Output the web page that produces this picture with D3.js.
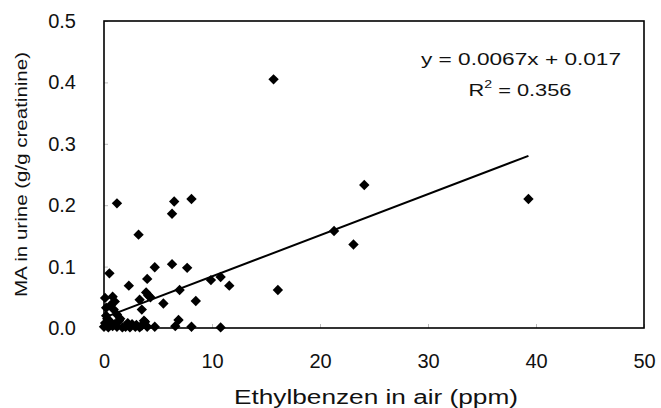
<!DOCTYPE html>
<html>
<head>
<meta charset="utf-8">
<script src="https://cdn.jsdelivr.net/npm/d3@7"></script>
<style>
  body { margin: 0; background: #fff; }
  svg { display: block; }
  text { font-family: "Liberation Sans", Arial, sans-serif; fill: #111; }
</style>
</head>
<body>
<svg id="chart" width="661" height="408"></svg>
<script>
// Data
const airPpm = [15.7, 39.3, 24.1, 21.3, 23.1, 16.1, 1.2, 6.5, 6.3, 8.1, 3.2, 0.5, 6.3, 7.7, 4.7, 4.0, 2.3, 9.9, 10.8, 11.6,
  7.0, 8.5, 5.5, 3.9, 4.1, 4.3, 3.3, 3.5, 3.7, 3.5, 6.9, 6.6, 8.1, 10.8, 4.7, 0.1, 0.8, 1.0, 0.2, 0.6,
  1.2, 0.9, 0.3, 0.1, 0.6, 1.4, 1.5, 2.2, 2.6, 3.0, 3.8, 0.0, 0.4, 0.8, 1.2, 1.7, 2.0, 2.4, 2.9, 3.3,
  4.0, 1.0, 0.2];
const maUrine = [0.405, 0.210, 0.233, 0.158, 0.136, 0.062, 0.203, 0.206, 0.186, 0.210, 0.152, 0.089, 0.104, 0.098, 0.099, 0.080, 0.069, 0.078, 0.083, 0.069,
  0.062, 0.044, 0.040, 0.058, 0.053, 0.050, 0.046, 0.030, 0.012, 0.004, 0.013, 0.003, 0.002, 0.001, 0.002, 0.049, 0.051, 0.043, 0.033, 0.037,
  0.022, 0.030, 0.015, 0.008, 0.010, 0.012, 0.015, 0.008, 0.006, 0.005, 0.010, 0.002, 0.001, 0.003, 0.002, 0.001, 0.002, 0.001, 0.002, 0.001,
  0.002, 0.006, 0.020];
const xTicks = [0, 10, 20, 30, 40, 50];
const yTicks = [0.0, 0.1, 0.2, 0.3, 0.4, 0.5];
const slope = 0.0067, intercept = 0.017;
const eqLabel = "y = 0.0067x + 0.017";
const r2Value = "0.356";
const xTitle = "Ethylbenzen in air (ppm)";
const yTitle = "MA in urine (g/g creatinine)";

const svg = d3.select("#chart");
const m = { left: 104, right: 17, top: 21, bottom: 80 };
const W = 661, H = 408;
const x = d3.scaleLinear().domain([0, 50]).range([m.left, W - m.right]);
const y = d3.scaleLinear().domain([0, 0.5]).range([H - m.bottom, m.top]);

// Axes (tick labels only, faint inner ticks)
const xAxis = svg.append("g").attr("transform", `translate(0,${H - m.bottom})`)
  .call(d3.axisBottom(x).tickValues(xTicks).tickFormat(d3.format("d")).tickSize(-4).tickPadding(26));
xAxis.select(".domain").remove();
xAxis.selectAll("line").attr("stroke", "#bbb");
xAxis.selectAll("text").attr("font-size", 20).attr("font-family", "Liberation Sans, Arial, sans-serif").attr("fill", "#111");

const yAxis = svg.append("g").attr("transform", `translate(${m.left},0)`)
  .call(d3.axisLeft(y).tickValues(yTicks).tickFormat(d3.format(".1f")).tickSize(-4).tickPadding(28));
yAxis.select(".domain").remove();
yAxis.selectAll("line").attr("stroke", "#bbb");
yAxis.selectAll("text").attr("font-size", 20).attr("font-family", "Liberation Sans, Arial, sans-serif").attr("fill", "#111");

// Frame
svg.append("rect")
  .attr("x", x(0)).attr("y", y(0.5))
  .attr("width", x(50) - x(0)).attr("height", y(0) - y(0.5))
  .attr("fill", "none").attr("stroke", "#000").attr("stroke-width", 1.6);

// Trendline
const xMin = d3.min(airPpm), xMax = d3.max(airPpm);
svg.append("line")
  .attr("x1", x(xMin)).attr("y1", y(slope * xMin + intercept))
  .attr("x2", x(xMax)).attr("y2", y(slope * xMax + intercept))
  .attr("stroke", "#000").attr("stroke-width", 2);

// Points
const pts = airPpm.map((v, i) => ({ x: v, y: maUrine[i] }));
const sym = d3.symbol().type(d3.symbolSquare).size(54);
svg.append("g").selectAll("path").data(pts).join("path")
  .attr("d", sym)
  .attr("transform", d => `translate(${x(d.x)},${y(d.y)}) rotate(45)`)
  .attr("fill", "#000");

// Equation
svg.append("text").attr("x", 521).attr("y", 65).attr("text-anchor", "middle")
  .attr("font-size", 17).attr("textLength", 200).attr("lengthAdjust", "spacingAndGlyphs").text(eqLabel);
const r2 = svg.append("text").attr("x", 520).attr("y", 96).attr("text-anchor", "middle").attr("font-size", 17)
  .attr("textLength", 103).attr("lengthAdjust", "spacingAndGlyphs");
r2.append("tspan").text("R");
r2.append("tspan").attr("font-size", 11).attr("dy", -8).text("2");
r2.append("tspan").attr("dy", 8).text(" = " + r2Value);

// Titles
svg.append("text").attr("x", 376).attr("y", 404).attr("text-anchor", "middle")
  .attr("font-size", 20).attr("textLength", 284).attr("lengthAdjust", "spacingAndGlyphs").text(xTitle);
svg.append("text").attr("transform", `translate(27,${(y(0) + y(0.5)) / 2}) rotate(-90)`)
  .attr("text-anchor", "middle").attr("font-size", 16)
  .attr("textLength", 245).attr("lengthAdjust", "spacingAndGlyphs").text(yTitle);
</script>
</body>
</html>
